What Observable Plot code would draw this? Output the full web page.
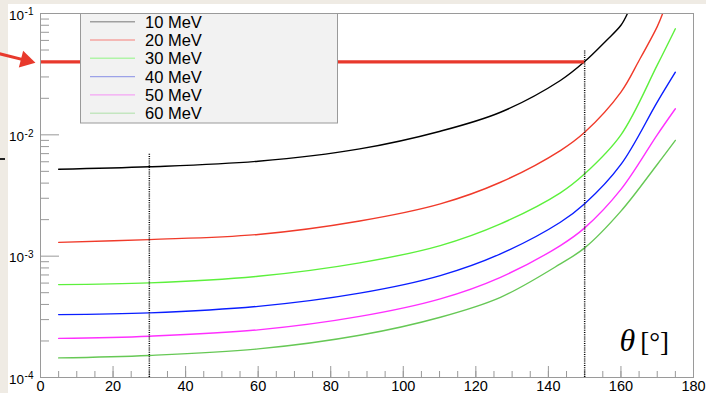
<!DOCTYPE html>
<html><head><meta charset="utf-8">
<script src="https://cdn.jsdelivr.net/npm/d3@7"></script>
<script src="https://cdn.jsdelivr.net/npm/@observablehq/plot@0.6"></script>
<style>
html,body{margin:0;padding:0;background:#efebe4;width:706px;height:393px;overflow:hidden;}
#paper{position:absolute;left:8px;top:4px;right:0;bottom:0;background:#fff;}
#chart{position:absolute;left:0;top:0;}
#mark{position:absolute;left:0;top:158px;width:5px;height:1.5px;background:#222;}
</style></head><body>
<div id="paper"></div><div id="mark"></div><div id="chart"></div>
<script>
// ---- data ----
const seriesNames = ["10 MeV","20 MeV","30 MeV","40 MeV","50 MeV","60 MeV"];
const seriesColors = ["#000000","#f03a2a","#5cf03c","#0a1eff","#ff30ff","#66c855"];
const legendColors = ["#a0a0a0","#f4a4a0","#b0f4a8","#9ca2e8","#f4a4f4","#c4e6c0"];

const theta10 = [5,30,60,88,110.2,126.8,143.3,150,156,160,161.8];
const value10 = [0.0052,0.00545,0.00606,0.00766,0.01071,0.01535,0.02804,0.0402,0.060,0.080,0.1];
const theta20 = [5,30,60,88,110.2,126.8,143.3,150,160,165,170,171.5];
const value20 = [0.0013,0.00137,0.00151,0.00195,0.002698,0.004066,0.007423,0.0105,0.0225,0.041,0.078,0.1];
const thetaHi = [5,30,60,88,110.2,126.8,143.3,150,160,170,175];
const value30 = [0.000583,0.000602,0.000683,0.000881,0.001223,0.001846,0.003324,0.00477,0.0100,0.0375,0.0748];
const value40 = [0.00033,0.000341,0.000386,0.000496,0.000692,0.001045,0.001903,0.0027,0.0057,0.0186,0.0328];
const value50 = [0.00021,0.000219,0.000247,0.000319,0.000445,0.00067,0.001223,0.00171,0.00355,0.0100,0.0164];
const value60 = [0.000145,0.000152,0.000172,0.000223,0.000314,0.000458,0.000864,0.00117,0.00235,0.0057,0.009];

const refLevel = 0.04;        // red horizontal line
const refTheta = 150;         // its end
const dotted = [{theta:30, top:0.007},{theta:150, top:0.05}];
const arrowShaft = [{x1:-13, y1:0.048, x2:-4.0, y2:0.0411}];
const arrowHead = [{x:-4.05, y:0.0411}];

const xMajor = [0,20,40,60,80,100,120,140,160,180];
const xMinor = d3.range(0,181,5);
const yMajor = [1e-4,1e-3,1e-2,1e-1];
const yExp = ["-4","-3","-2","-1"];
const yMinor = [1e-4,1e-3,1e-2].flatMap(d => d3.range(2,10).map(k => k*d));

const sets = [
  [theta10, value10],[theta20, value20],[thetaHi, value30],
  [thetaHi, value40],[thetaHi, value50],[thetaHi, value60]
];
const table = sets.flatMap(([t,v],i) => t.map((th,j) => ({theta:th, value:v[j], series:seriesNames[i]})));

// ---- plot ----
const W=706,H=393,mL=40,mR=13,mT=13,mB=16;
const fw = W-mL-mR, fh = H-mT-mB;
const font = "Liberation Sans, Arial, Helvetica, sans-serif";
const red = "#e8392c";

const chart = Plot.plot({
  width:W, height:H, marginLeft:mL, marginRight:mR, marginTop:mT, marginBottom:mB,
  style:{background:"transparent", fontFamily:font, fontSize:"14px", color:"#000", overflow:"visible"},
  x:{domain:[0,180], axis:null},
  y:{type:"log", domain:[1e-4,1e-1], axis:null},
  marks:[
    Plot.ruleY(yMinor,{y:d=>d, stroke:"#999", insetRight:fw-9}),
    Plot.ruleY(yMajor,{y:d=>d, stroke:"#999", insetRight:fw-19}),
    Plot.ruleX(xMinor,{x:d=>d, stroke:"#999", insetTop:fh-6}),
    Plot.ruleX(xMajor,{x:d=>d, stroke:"#999", insetTop:fh-11}),
    Plot.text(xMajor,{x:d=>d, y:1e-4, text:d=>String(d), lineAnchor:"top", dy:3, fontSize:14.5, fill:"#000"}),
    Plot.text(yMajor,{x:0, y:d=>d, text:()=>"10", textAnchor:"end", dx:-16.5, dy:2, fontSize:13.5, fill:"#000"}),
    Plot.text(yMajor,{x:0, y:d=>d, text:(d,i)=>yExp[i], textAnchor:"end", dx:-7, dy:-1.5, fontSize:10, fill:"#000"}),
    Plot.line(table,{x:"theta", y:"value", z:"series", stroke:(d)=>seriesColors[seriesNames.indexOf(d.series)], strokeWidth:1.4, curve:"catmull-rom", clip:true}),
    Plot.ruleY([refLevel],{x1:0, x2:refTheta, stroke:red, strokeWidth:3.2}),
    Plot.ruleX(dotted,{x:"theta", y1:1e-4, y2:"top", stroke:"#000", strokeWidth:1.5, strokeDasharray:"1,1.2"}),
    Plot.link(arrowShaft,{x1:"x1", y1:"y1", x2:"x2", y2:"y2", stroke:red, strokeWidth:3}),
    Plot.dot(arrowHead,{x:"x", y:"y", symbol:"triangle", r:6.4, rotate:104.4, fill:red, stroke:null}),
    Plot.frame({stroke:"#9a9a9a"})
  ]
});
document.getElementById("chart").appendChild(chart);

// ---- legend + axis title ----
const svg = d3.select(chart);
const lg = svg.append("g").attr("text-anchor","start");
lg.append("rect").attr("x",80.5).attr("y",13.5).attr("width",257).attr("height",109.5)
  .attr("fill","#f2f2f2").attr("stroke","#9a9a9a");
seriesNames.forEach((name,i) => {
  const cy = 21.7 + i*18.3;
  lg.append("line").attr("x1",90).attr("x2",135).attr("y1",cy).attr("y2",cy)
    .attr("stroke",legendColors[i]).attr("stroke-width",1.4);
  lg.append("text").attr("x",145).attr("y",cy).attr("dy","0.36em")
    .attr("font-family",font).attr("font-size",16.5).attr("fill","#000").text(name);
});
const tt = svg.append("text").attr("x",669).attr("y",351).attr("text-anchor","end")
  .attr("font-family","Liberation Serif, Times New Roman, serif").attr("fill","#000");
tt.append("tspan").attr("font-style","italic").attr("font-size",32).text("θ");
tt.append("tspan").attr("font-size",27).attr("dx",5).text("[°]");
</script>
</body></html>
